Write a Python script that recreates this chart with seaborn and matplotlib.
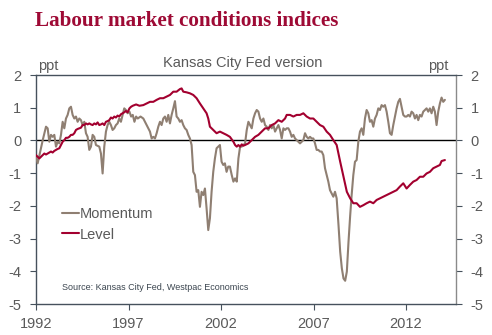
import matplotlib
matplotlib.use("Agg")
import matplotlib.pyplot as plt
import seaborn as sns
import pandas as pd

# ---- data ----
momentum_years = [
    1992.00, 1992.09, 1992.36, 1992.54, 1992.63, 1992.72, 1992.81, 1992.90, 1992.99, 1993.08,
    1993.17, 1993.26, 1993.35, 1993.44, 1993.53, 1993.62, 1993.71, 1993.80, 1993.89, 1993.98,
    1994.07, 1994.16, 1994.25, 1994.34, 1994.43, 1994.52, 1994.61, 1994.70, 1994.79, 1994.88,
    1994.97, 1995.06, 1995.15, 1995.24, 1995.42, 1995.51, 1995.60, 1995.69, 1995.78, 1995.87,
    1995.96, 1996.05, 1996.14, 1996.23, 1996.32, 1996.41, 1996.50, 1996.59, 1996.68, 1996.77,
    1996.86, 1996.95, 1997.05, 1997.14, 1997.23, 1997.32, 1997.41, 1997.50, 1997.65,
    1997.80, 1997.98, 1998.16, 1998.25, 1998.34, 1998.43, 1998.52, 1998.61, 1998.70, 1998.79,
    1998.88, 1998.97, 1999.06, 1999.15, 1999.24, 1999.33, 1999.42, 1999.51, 1999.60, 1999.69,
    1999.78, 1999.87, 1999.96, 2000.05, 2000.14, 2000.23, 2000.32, 2000.41, 2000.50, 2000.59,
    2000.68, 2000.77, 2000.86, 2000.95, 2001.04, 2001.13, 2001.22, 2001.31, 2001.40, 2001.49,
    2001.58, 2001.67, 2001.76, 2001.85, 2001.94, 2002.03, 2002.12, 2002.21, 2002.30, 2002.39,
    2002.48, 2002.58, 2002.67, 2002.76, 2002.85, 2002.94, 2003.03, 2003.12, 2003.21,
    2003.30, 2003.39, 2003.48, 2003.57, 2003.66, 2003.75, 2003.84, 2003.93, 2004.02, 2004.11,
    2004.20, 2004.29, 2004.38, 2004.47, 2004.56, 2004.65, 2004.74, 2004.83, 2004.92, 2005.01,
    2005.10, 2005.19, 2005.28, 2005.37, 2005.46, 2005.55, 2005.64, 2005.73, 2005.82, 2005.91,
    2006.00, 2006.09, 2006.18, 2006.27, 2006.36, 2006.45, 2006.54, 2006.63, 2006.72, 2006.81,
    2006.90, 2006.99, 2007.08, 2007.17, 2007.26, 2007.35, 2007.44, 2007.53, 2007.62, 2007.71,
    2007.80, 2007.89, 2007.98, 2008.07, 2008.16, 2008.25, 2008.35, 2008.44, 2008.53, 2008.62,
    2008.71, 2008.80, 2008.89, 2008.98,
    2009.06, 2009.15, 2009.24, 2009.33, 2009.42, 2009.51, 2009.60, 2009.69, 2009.78, 2009.87,
    2009.96, 2010.05, 2010.14, 2010.23, 2010.32, 2010.41, 2010.50, 2010.59, 2010.68, 2010.77,
    2010.86, 2010.95, 2011.04, 2011.13, 2011.22, 2011.31, 2011.40, 2011.49, 2011.58, 2011.67,
    2011.76, 2011.85, 2011.94, 2012.03, 2012.12, 2012.21, 2012.30, 2012.39, 2012.48, 2012.57,
    2012.66, 2012.75, 2012.84, 2012.93, 2013.02, 2013.11, 2013.20, 2013.29, 2013.38, 2013.47,
    2013.56, 2013.65, 2013.74, 2013.83, 2013.92, 2014.01, 2014.10,
]
momentum_values = [
    -0.50, -0.70, 0.00, 0.42, 0.37, -0.04, 0.17, 0.11, 0.17, -0.19,
    -0.04, -0.09, 0.17, 0.57, 0.37, 0.67, 0.78, 0.98, 1.03, 0.78,
    0.67, 0.73, 0.57, 0.67, 0.62, 0.47, 0.57, 0.22, 0.11, -0.29,
    -0.19, 0.17, 0.11, -0.14, -0.19, -0.40, -1.01, -0.19, 0.27, 0.47,
    0.57, 0.47, 0.32, 0.37, 0.47, 0.52, 0.67, 0.57, 0.78, 0.98,
    0.93, 0.83, 0.88, 0.73, 0.78, 0.57, 0.73, 0.67, 0.73,
    0.67, 0.47, 0.27, 0.06, 0.11, 0.06, 0.22, 0.42, 0.57, 0.47,
    0.67, 0.73, 0.57, 0.78, 0.52, 0.78, 0.98, 1.20, 0.73, 0.67,
    0.57, 0.62, 0.47, 0.37, 0.32, 0.17, 0.06, -0.14, -0.96, -1.06,
    -1.57, -1.52, -2.03, -1.57, -1.67, -1.47, -2.08, -2.74, -2.38, -1.57,
    -0.96, -0.55, -0.24, -0.19, -0.14, -0.65, -0.75, -0.70, -0.96, -0.80,
    -0.80, -1.06, -1.26, -1.16, -1.26, -0.55, -0.19, -0.19, -0.14,
    -0.09, 0.32, 0.57, 0.47, 0.37, 0.67, 0.83, 0.93, 0.88, 0.67,
    0.57, 0.67, 0.47, 0.42, 0.32, 0.47, 0.37, 0.47, 0.27, 0.37,
    0.47, 0.32, 0.06, 0.37, 0.32, 0.37, 0.37, 0.27, 0.11, 0.17,
    0.06, 0.01, -0.04, -0.09, -0.04, 0.01, 0.22, 0.11, 0.06, 0.11,
    0.06, 0.06, -0.09, -0.29, -0.29, -0.34, -0.34, -0.45, -0.85, -1.06,
    -1.26, -1.52, -1.62, -1.72, -1.57, -1.77, -2.59, -3.40, -3.91, -4.22,
    -4.29, -4.01, -3.10, -2.30,
    -1.67, -1.06, -0.65, -0.60, -0.04, 0.27, 0.37, 0.17, 0.67, 0.93,
    0.83, 0.57, 0.62, 0.42, 0.67, 0.78, 0.98, 0.93, 1.08, 1.03,
    1.08, 0.88, 0.57, 0.22, 0.17, 0.47, 0.73, 0.98, 1.18, 1.27,
    1.03, 0.78, 0.73, 0.73, 0.78, 0.73, 0.88, 0.83, 0.67, 0.78,
    0.62, 0.78, 0.73, 0.88, 0.93, 0.98, 0.88, 0.98, 0.83, 1.03,
    0.88, 0.47, 0.88, 1.13, 1.31, 1.18, 1.24,
]

level_years = [
    1992.00, 1992.09, 1992.18, 1992.27, 1992.36, 1992.45, 1992.54, 1992.63, 1992.72, 1992.81,
    1992.90, 1992.99, 1993.08, 1993.17, 1993.26, 1993.35, 1993.44, 1993.53, 1993.62, 1993.71,
    1993.80, 1993.89, 1993.98, 1994.07, 1994.16, 1994.25, 1994.34, 1994.43, 1994.52, 1994.61,
    1994.70, 1994.79, 1994.88, 1994.97, 1995.06, 1995.15, 1995.24, 1995.33, 1995.42, 1995.51,
    1995.60, 1995.69, 1995.78, 1995.87, 1995.96, 1996.05, 1996.14, 1996.23, 1996.32, 1996.41,
    1996.50, 1996.59, 1996.68, 1996.77, 1996.86, 1996.95, 1997.05, 1997.14, 1997.23, 1997.32,
    1997.41, 1997.50, 1997.59,
    1997.80, 1997.98, 1998.16, 1998.34, 1998.52, 1998.70, 1998.88, 1999.06, 1999.24, 1999.42,
    1999.60, 1999.78, 1999.87, 1999.96, 2000.14, 2000.32, 2000.50, 2000.68, 2000.86, 2001.04,
    2001.22, 2001.31, 2001.40, 2001.58, 2001.76, 2001.94, 2002.12, 2002.30, 2002.48, 2002.67,
    2002.76, 2002.85, 2002.94, 2003.03, 2003.12, 2003.21,
    2003.30, 2003.48, 2003.66, 2003.84, 2004.02, 2004.20, 2004.38, 2004.56, 2004.74, 2004.92,
    2005.10, 2005.28, 2005.46, 2005.55, 2005.73, 2005.91, 2006.09, 2006.27, 2006.45, 2006.63,
    2006.81, 2006.99, 2007.17, 2007.35, 2007.53, 2007.71, 2007.89, 2008.07, 2008.25, 2008.44,
    2008.62, 2008.80, 2008.98,
    2009.15, 2009.33, 2009.51, 2009.69, 2009.87, 2010.05, 2010.23, 2010.41, 2010.59, 2010.77,
    2010.95, 2011.13, 2011.31, 2011.49, 2011.67, 2011.85, 2012.03, 2012.21, 2012.39, 2012.57,
    2012.75, 2012.93, 2013.11, 2013.29, 2013.47, 2013.65, 2013.83, 2013.92, 2014.10,
]
level_values = [
    -0.45, -0.50, -0.55, -0.50, -0.45, -0.40, -0.43, -0.40, -0.37, -0.34,
    -0.37, -0.32, -0.29, -0.26, -0.24, -0.14, -0.04, 0.01, 0.08, 0.08,
    0.11, 0.17, 0.17, 0.22, 0.32, 0.35, 0.37, 0.39, 0.47, 0.47,
    0.52, 0.49, 0.52, 0.49, 0.47, 0.52, 0.49, 0.55, 0.47, 0.49,
    0.52, 0.47, 0.57, 0.59, 0.62, 0.70, 0.67, 0.73, 0.70, 0.76,
    0.73, 0.80, 0.83, 0.86, 0.90, 0.86, 0.98, 1.03, 1.06, 1.08,
    1.10, 1.08, 1.06,
    1.08, 1.13, 1.18, 1.18, 1.24, 1.29, 1.29, 1.34, 1.39, 1.49,
    1.49, 1.57, 1.59, 1.49, 1.47, 1.44, 1.39, 1.29, 1.13, 0.98,
    0.83, 0.67, 0.42, 0.32, 0.22, 0.27, 0.22, 0.17, 0.11, -0.04,
    -0.14, -0.19, -0.14, -0.19, -0.12, -0.16,
    -0.14, -0.09, 0.01, 0.11, 0.17, 0.27, 0.37, 0.37, 0.47, 0.52,
    0.62, 0.57, 0.67, 0.78, 0.78, 0.73, 0.78, 0.78, 0.83, 0.73,
    0.67, 0.67, 0.57, 0.47, 0.42, 0.27, 0.17, 0.01, -0.14, -0.65,
    -1.11, -1.57, -1.77,
    -1.92, -1.92, -2.03, -1.98, -1.92, -1.87, -1.92, -1.82, -1.77, -1.72,
    -1.67, -1.62, -1.57, -1.52, -1.41, -1.31, -1.47, -1.36, -1.26, -1.21,
    -1.11, -1.11, -1.01, -0.96, -0.85, -0.80, -0.75, -0.63, -0.60,
]

series_names = ["Momentum", "Level"]
series_colors = ["#8f7f72", "#a3002f"]
x_ticks = [1992, 1997, 2002, 2007, 2012]
y_ticks = [2, 1, 0, -1, -2, -3, -4, -5]

df = pd.concat([
    pd.DataFrame({"year": momentum_years, "value": momentum_values, "series": series_names[0]}),
    pd.DataFrame({"year": level_years, "value": level_values, "series": series_names[1]}),
], ignore_index=True)

sns.set_style("white")
plt.rcParams["font.family"] = ["Liberation Sans", "DejaVu Sans"]

fig = plt.figure(figsize=(4.92, 3.35), dpi=100)
ax = fig.add_axes([36 / 492, 31 / 335, 420 / 492, 229 / 335])

ax.axhline(0, color="black", lw=1.0, zorder=1)
sns.lineplot(data=df, x="year", y="value", hue="series", hue_order=series_names,
             palette=dict(zip(series_names, series_colors)), estimator=None,
             sort=False, lw=1.5, ax=ax, zorder=3)

ax.set_xlim(1992, 2014.7)
ax.set_ylim(-5, 2)
ax.set_xticks(x_ticks)
ax.set_xticklabels([str(t) for t in x_ticks])
ax.set_yticks(y_ticks)
ax.set_yticklabels([str(t).replace("-", "-") for t in y_ticks])
ax.set_xlabel("")
ax.set_ylabel("")

dark = "#46515c"
grey_txt = "#5a5a5a"
for side in ["left", "bottom", "top"]:
    ax.spines[side].set_color(dark)
    ax.spines[side].set_linewidth(1.0)
ax.spines["right"].set_color("#8a8a8a")
ax.spines["right"].set_linewidth(1.0)

ax.tick_params(axis="y", which="both", left=True, right=True, labelleft=True,
               labelright=True, direction="out", length=4, pad=6.5,
               labelsize=10.5, labelcolor=grey_txt, color=dark)
ax.tick_params(axis="x", bottom=True, direction="out", length=4, pad=5,
               labelsize=10.5, labelcolor=grey_txt, color=dark)
for t in ax.yaxis.get_ticklines()[1::2]:
    t.set_color("#8a8a8a")

leg = ax.legend(loc="upper left", bbox_to_anchor=(62 / 492, 1 - 207 / 335),
                bbox_transform=fig.transFigure, frameon=False, fontsize=10.5,
                handlelength=1.15, handletextpad=0.1, labelspacing=0.45,
                borderpad=0, borderaxespad=0)
for txt in leg.get_texts():
    txt.set_color(grey_txt)

fig.text(35 / 492, 1 - 26 / 335, "Labour market conditions indices",
         fontfamily="Liberation Serif", fontweight="bold", fontsize=15.2,
         color="#9e0a35", va="baseline", ha="left")
fig.text(243 / 492, 1 - 67 / 335, "Kansas City Fed version", fontsize=10.5,
         color=grey_txt, ha="center", va="baseline")
fig.text(38 / 492, 1 - 70 / 335, "ppt", fontsize=10.5, color=grey_txt,
         ha="left", va="baseline")
fig.text(448 / 492, 1 - 70 / 335, "ppt", fontsize=10.5, color=grey_txt,
         ha="right", va="baseline")
fig.text(62 / 492, 1 - 290 / 335, "Source: Kansas City Fed, Westpac Economics",
         fontsize=6.5, color="#3c4650", ha="left", va="baseline")

fig.savefig("out.png", dpi=100, facecolor="white")
